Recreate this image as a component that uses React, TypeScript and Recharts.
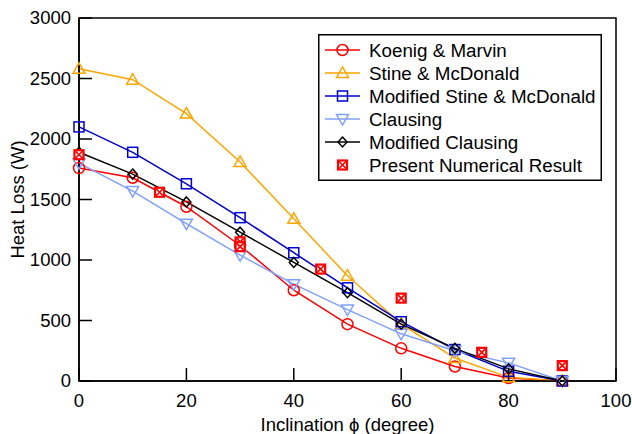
import React from 'react';
import { ComposedChart, Line, Scatter, XAxis, YAxis, ReferenceArea } from 'recharts';

const angles = [0, 10, 20, 30, 40, 50, 60, 70, 80, 90];
const koenig = [1760, 1680, 1440, 1120, 750, 470, 270, 120, 25, 0];
const stine = [2580, 2490, 2210, 1810, 1340, 870, 470, 190, 30, 0];
const modStine = [2100, 1890, 1630, 1350, 1060, 770, 490, 260, 80, 0];
const clausing = [1800, 1570, 1300, 1040, 800, 590, 390, 250, 150, 0];
const modClausing = [1890, 1710, 1480, 1230, 980, 730, 470, 270, 100, 0];
const numAngles = [0, 15, 30, 30, 45, 60, 75, 90];
const numValues = [1870, 1560, 1150, 1110, 925, 685, 237, 127];
const xTicks = [0, 20, 40, 60, 80, 100];
const yTicks = [0, 500, 1000, 1500, 2000, 2500, 3000];

const FONT = '"Liberation Sans", Arial, sans-serif';
const FS = 18.5;

const toData = (vals: number[]) => angles.map((a, i) => ({ x: a, y: vals[i] }));
const numData = numAngles.map((a, i) => ({ x: a, y: numValues[i] }));

type Kind = 'circle' | 'up' | 'square' | 'down' | 'diamond' | 'xsq';

function Marker({ kind, cx, cy, color }: { kind: Kind; cx: number; cy: number; color: string }) {
  const sw = 1.5;
  if (kind === 'circle') return <circle cx={cx} cy={cy} r={5.5} fill="none" stroke={color} strokeWidth={sw} />;
  if (kind === 'square') return <rect x={cx - 5} y={cy - 5} width={10} height={10} fill="none" stroke={color} strokeWidth={sw} />;
  if (kind === 'up') return <polygon points={`${cx},${cy - 6} ${cx - 6},${cy + 4.5} ${cx + 6},${cy + 4.5}`} fill="none" stroke={color} strokeWidth={sw} />;
  if (kind === 'down') return <polygon points={`${cx},${cy + 6} ${cx - 6},${cy - 4.5} ${cx + 6},${cy - 4.5}`} fill="none" stroke={color} strokeWidth={sw} />;
  if (kind === 'diamond') return <polygon points={`${cx},${cy - 5} ${cx + 4.5},${cy} ${cx},${cy + 5} ${cx - 4.5},${cy}`} fill="none" stroke={color} strokeWidth={sw} />;
  return (
    <g>
      <rect x={cx - 4.5} y={cy - 4.5} width={9} height={9} fill="#fff" stroke={color} strokeWidth={2.2} />
      <line x1={cx - 3.5} y1={cy - 3.5} x2={cx + 3.5} y2={cy + 3.5} stroke={color} strokeWidth={1.6} />
      <line x1={cx - 3.5} y1={cy + 3.5} x2={cx + 3.5} y2={cy - 3.5} stroke={color} strokeWidth={1.6} />
    </g>
  );
}

const series: { name: string; data: number[]; color: string; kind: Kind }[] = [
  { name: 'Koenig & Marvin', data: koenig, color: '#ff0000', kind: 'circle' },
  { name: 'Stine & McDonald', data: stine, color: '#ffa500', kind: 'up' },
  { name: 'Modified Stine & McDonald', data: modStine, color: '#0000d0', kind: 'square' },
  { name: 'Clausing', data: clausing, color: '#80a0ff', kind: 'down' },
  { name: 'Modified Clausing', data: modClausing, color: '#000000', kind: 'diamond' },
];
const numName = 'Present Numerical Result';

const dotRenderer = (kind: Kind, color: string) => (p: any) => (
  <Marker key={`${kind}-${p.index}`} kind={kind} cx={p.cx} cy={p.cy} color={color} />
);

const YTick = (p: any) => (
  <g>
    <line x1={p.x} y1={p.y} x2={p.x + 13} y2={p.y} stroke="#000" strokeWidth={1.5} />
    <text x={p.x - 8} y={p.y} dy="0.35em" textAnchor="end" fontSize={FS} fontFamily={FONT} fill="#000">
      {p.payload.value}
    </text>
  </g>
);
const XTick = (p: any) => (
  <g>
    <line x1={p.x} y1={p.y} x2={p.x} y2={p.y - 13} stroke="#000" strokeWidth={1.5} />
    <text x={p.x} y={p.y + 26} textAnchor="middle" fontSize={FS} fontFamily={FONT} fill="#000">
      {p.payload.value}
    </text>
  </g>
);

const LegendBox = () => {
  const rows = [
    ...series.map((s) => ({ name: s.name, color: s.color, kind: s.kind, line: true })),
    { name: numName, color: '#ff0000', kind: 'xsq' as Kind, line: false },
  ];
  return (
    <svg width={284} height={147} style={{ display: 'block' }}>
      <rect x={0.75} y={0.75} width={282.5} height={145.5} fill="#fff" stroke="#000" strokeWidth={1.5} />
      {rows.map((r, i) => {
        const cy = 16 + i * 23;
        return (
          <g key={r.name}>
            {r.line && <line x1={7} y1={cy} x2={42} y2={cy} stroke={r.color} strokeWidth={1.5} />}
            <Marker kind={r.kind} cx={24.5} cy={cy} color={r.color} />
            <text x={51} y={cy} dy="0.35em" fontSize={18.8} fontFamily={FONT} fill="#000">
              {r.name}
            </text>
          </g>
        );
      })}
    </svg>
  );
};

export default function App() {
  return (
    <div style={{ position: 'absolute', left: 0, top: 0, width: 632, height: 434, background: '#fff' }}>
      <ComposedChart width={632} height={434} margin={{ top: 18, right: 16, bottom: 0, left: 0 }}>
        <XAxis
          type="number"
          dataKey="x"
          domain={[0, 100]}
          ticks={xTicks}
          height={53}
          tickSize={0}
          tickMargin={0}
          tickLine={false}
          axisLine={{ stroke: '#000', strokeWidth: 1.5 }}
          tick={<XTick />}
          label={(props: any) => {
            const vb = props.viewBox;
            return (
              <text x={vb.x + vb.width / 2} y={vb.y + 50} textAnchor="middle" fontSize={FS} fontFamily={FONT} fill="#000">
                Inclination ϕ (degree)
              </text>
            );
          }}
        />
        <YAxis
          type="number"
          dataKey="y"
          domain={[0, 3000]}
          ticks={yTicks}
          width={79}
          tickSize={0}
          tickMargin={0}
          tickLine={false}
          axisLine={{ stroke: '#000', strokeWidth: 1.5 }}
          tick={<YTick />}
          label={(props: any) => {
            const vb = props.viewBox;
            const cx = vb.x + 18;
            const cy = vb.y + vb.height / 2;
            return (
              <text x={cx} y={cy} dy="0.35em" textAnchor="middle" fontSize={FS} fontFamily={FONT} fill="#000" transform={`rotate(-90 ${cx} ${cy})`}>
                Heat Loss (W)
              </text>
            );
          }}
        />
        <ReferenceArea x1={0} x2={100} y1={0} y2={3000} fill="none" stroke="#000" strokeWidth={1.5} fillOpacity={0} ifOverflow="visible" />
        {series.map((s) => (
          <Line
            key={s.name}
            data={toData(s.data)}
            dataKey="y"
            name={s.name}
            type="linear"
            stroke={s.color}
            strokeWidth={1.5}
            dot={dotRenderer(s.kind, s.color)}
            activeDot={false}
            isAnimationActive={false}
          />
        ))}
        <Scatter
          data={numData}
          dataKey="y"
          name={numName}
          isAnimationActive={false}
          shape={(p: any) => <Marker kind="xsq" cx={p.cx} cy={p.cy} color="#ff0000" />}
        />
      </ComposedChart>
      <div style={{ position: 'absolute', left: 318, top: 34 }}>
        <LegendBox />
      </div>
    </div>
  );
}
